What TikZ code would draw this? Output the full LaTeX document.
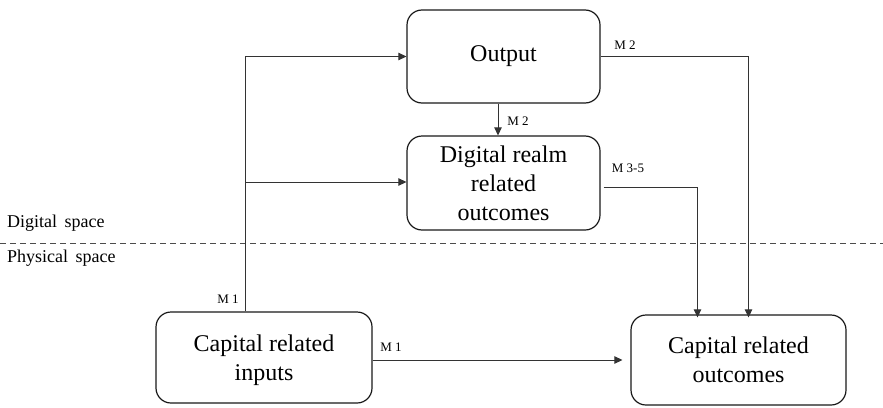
\documentclass[tikz,border=0pt]{standalone}
\usepackage{fontspec}
\setmainfont{Liberation Serif}
\usetikzlibrary{arrows.meta,calc}
\begin{document}
\begin{tikzpicture}[x=1pt,y=-1pt,
  box/.style={draw=black!90,line width=1.2pt,rounded corners=15pt,align=center,
    font=\rmfamily\fontsize{24}{29}\selectfont,inner sep=0pt},
  arr/.style={draw=black!80,line width=0.8pt,-{Triangle[length=8pt,width=7.5pt]}},
  mlab/.style={font=\rmfamily\fontsize{13}{15}\selectfont,inner sep=0pt},
  spacelab/.style={font=\rmfamily\fontsize{18}{20}\selectfont,inner sep=0pt,anchor=west}]
\useasboundingbox (0,0) rectangle (883,407);
\node[box,minimum width=193pt,minimum height=93pt] (out) at (503.5,56.5) {Output};
\node[box,minimum width=193pt,minimum height=94pt] (dig) at (503.5,183) {Digital realm\\related\\outcomes};
\node[box,minimum width=216pt,minimum height=91pt,text depth=0pt] (inp) at (264,357.5) {Capital related\\inputs};
\node[box,minimum width=215pt,minimum height=90pt] (cout) at (738.5,360) {Capital related\\outcomes};
% dashed divider
\coordinate (dl) at (0,243);
\coordinate (dr) at (883,243);
\draw[black!70,line width=0.8pt,dash pattern=on 6pt off 4pt] (dl) -- (dr);
\node[spacelab] (ds) at (7,223) {Digital\ \,space};
\node[spacelab] (ps) at (7,258) {Physical\ \,space};
% connectors
\coordinate (bus) at (245,182);
\draw[arr] ([xshift=-19pt]inp.north) |- (out.west);
\draw[arr] (bus) -- (dig.west |- bus);
\draw[arr] ([xshift=-5.5pt]out.south) -- ([xshift=-5.5pt]dig.north);
\draw[arr] (out.east) -| ([xshift=10pt,yshift=-3pt]cout.north);
\draw[arr,shorten <=3pt] ([yshift=-4pt]dig.east) -| ([xshift=-41pt,yshift=-3pt]cout.north);
\draw[arr] (inp.east |- cout.west) -- ([xshift=-8pt]cout.west);
% labels
\node[mlab] (m2a) at (518,121) {M 2};
\node[mlab] (m2b) at (625,45) {M 2};
\node[mlab] (m35) at (628,168) {M 3-5};
\node[mlab] (m1a) at (228,299) {M 1};
\node[mlab] (m1b) at (391,347) {M 1};
\end{tikzpicture}
\end{document}
